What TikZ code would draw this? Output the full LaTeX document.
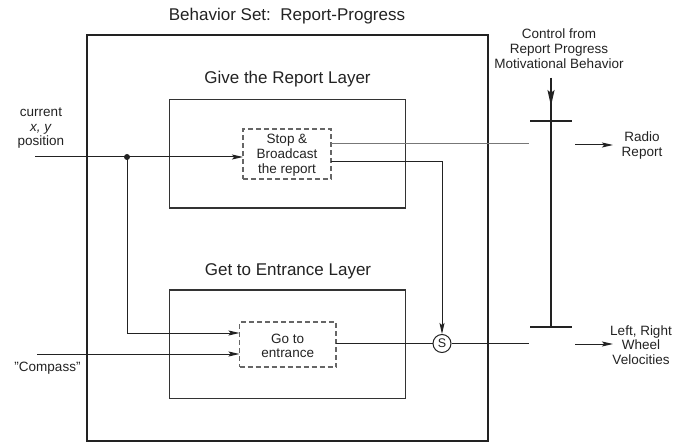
\documentclass[tikz,border=0pt]{standalone}
\usepackage{fontspec}
\setmainfont{Liberation Sans}
\usetikzlibrary{arrows.meta}
\definecolor{ink}{HTML}{222222}
\definecolor{boxgray}{HTML}{333333}
\definecolor{dashgray}{HTML}{666666}
\definecolor{linegray}{HTML}{777777}
\begin{document}
\begin{tikzpicture}[x=1pt,y=-1pt,
  txt/.style={font=\fontsize{13.5}{15}\selectfont, text=ink, align=center, inner sep=0pt},
  ttl/.style={font=\fontsize{17}{20}\selectfont, text=ink, inner sep=0pt, anchor=base},
  layer/.style={draw=boxgray, line width=1.2pt, minimum width=236pt, minimum height=108.5pt, inner sep=0pt, outer sep=0pt},
  beh/.style={txt, draw=dashgray, line width=1.1pt, dash pattern=on 5pt off 3pt, outer sep=0pt},
  arr/.style={draw=ink, line width=1pt, -{Stealth[length=11pt,width=5pt,inset=2pt]}},
  bigarr/.style={draw=ink, line width=1.6pt, -{Stealth[length=16pt,width=7pt,inset=3pt]}},
  wire/.style={draw=ink, line width=1pt},
  crossbar/.style={draw=ink, line width=2.4pt},
]
\useasboundingbox (0,0) rectangle (690,443);
% titles and boxes
\node[ttl] (title) at (287,20.7) {Behavior Set:\ \ Report-Progress};
\node[draw=ink, line width=2.8pt, minimum width=401pt, minimum height=406pt, inner sep=0pt, outer sep=0pt] (outer) at (287.5,238) {};
\node[ttl] (givettl) at (287.5,83.5) {Give the Report Layer};
\node[layer] (give) at (287.5,153.75) {};
\node[ttl] (getttl) at (288,276) {Get to Entrance Layer};
\node[layer] (get) at (287.5,344.25) {};
\node[beh, minimum width=88pt, minimum height=50pt] (stop) at (287,154) {};
\node[txt] (stoptxt) at (287,155.5) {Stop \&\\Broadcast\\the report};
\node[beh, minimum width=96.5pt, minimum height=45pt] (go) at (287.75,344.5) {};
\node[txt, font=\fontsize{13.5}{14}\selectfont] (gotxt) at (287.75,345.5) {Go to\\entrance};
\node[circle, draw=ink, line width=1pt, minimum size=18pt, inner sep=0pt, font=\fontsize{12.5}{14}\selectfont, text=ink] (S) at (442,343.5) {S};
% side labels
\node[txt, font=\fontsize{13.5}{14.5}\selectfont] (cur) at (41,128.5) {current\\\textit{x, y}\\position};
\node[txt] (comp) at (47.5,368.5) {"Compass"};
\node[txt] (ctrl) at (559,49) {Control from\\Report Progress\\Motivational Behavior};
\node[txt] (radio) at (642,146) {Radio\\Report};
\node[txt, font=\fontsize{13.5}{14.5}\selectfont] (wheel) at (641,345) {Left, Right\\Wheel\\Velocities};
% helper coordinates
\coordinate (cin) at (35,157);
\coordinate (y333) at (0,333);
\coordinate (compin) at (37,354);
\coordinate (y144) at (0,144);
\coordinate (y162) at (0,162);
\coordinate (radioend) at (529,144);
\coordinate (wheelend) at (529,343.5);
\coordinate (ctrltop) at (551,78);
\coordinate (ctrltip) at (551,106);
\coordinate (barbot) at (551,327);
\coordinate (ra1) at (575,145);
\coordinate (ra2) at (613,145);
\coordinate (wa1) at (575,344);
\coordinate (wa2) at (613,344);
\node[circle, fill=ink, minimum size=6pt, inner sep=0pt] (dot) at (127,157) {};
% connectors
\draw[arr] (cin) -- (stop.west |- cin);
\draw[arr] (dot.center) |- (go.west |- y333);
\draw[arr] (compin) -- (go.west |- compin);
\draw[wire, draw=linegray] (stop.east |- y144) -- (radioend);
\draw[arr] (stop.east |- y162) -| (S.north);
\draw[wire] (go.east |- S) -- (S.west);
\draw[wire] (S.east) -- (wheelend);
% switch bar
\draw[wire, line width=1.6pt] (ctrltop) -- (barbot);
\draw[bigarr] (ctrltop) -- (ctrltip);
\draw[crossbar] (530,121) -- (572,121);
\draw[crossbar] (530,327) -- (572,327);
\draw[arr] (ra1) -- (ra2);
\draw[arr] (wa1) -- (wa2);
\end{tikzpicture}
\end{document}
